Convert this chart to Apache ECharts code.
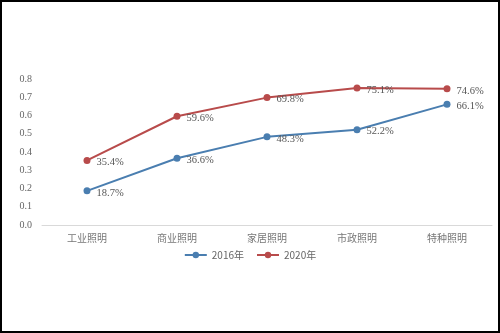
<!DOCTYPE html>
<html><head><meta charset="utf-8">
<script src="https://cdn.jsdelivr.net/npm/echarts@6/dist/echarts.min.js"></script>
<style>
html,body{margin:0;padding:0;background:#fff;}
#c{width:500px;height:333px;box-sizing:border-box;border:2px solid #000;}
</style></head>
<body><div id="c"></div>
<script>
const categories = ['工业照明','商业照明','家居照明','市政照明','特种照明'];
const s2016 = [0.187, 0.366, 0.483, 0.522, 0.661];
const s2020 = [0.354, 0.596, 0.698, 0.751, 0.746];
const seriesNames = ['2016年','2020年'];
const chart = echarts.init(document.getElementById('c'));
const lbl = {show:true, position:'right', distance:6, offset:[0,2], color:'#555', fontSize:10.5, fontFamily:'Liberation Serif',
  formatter: p => (p.value*100).toFixed(1)+'%'};
chart.setOption({
  animation:false,
  grid:{left:40, right:6, top:77, bottom:106},
  legend:{bottom:66, left:'center', itemWidth:22, itemHeight:8, itemGap:12,
    textStyle:{color:'#666', fontSize:10, fontFamily:'Noto Sans CJK SC'},
    data:seriesNames},
  xAxis:{type:'category', data:categories, boundaryGap:true,
    axisLine:{lineStyle:{color:'#d9d9d9'}}, axisTick:{show:false},
    axisLabel:{color:'#777', fontSize:10, fontFamily:'Noto Sans CJK SC', margin:8}},
  yAxis:{type:'value', min:0, max:0.8, interval:0.1,
    splitLine:{show:false}, axisLine:{show:false}, axisTick:{show:false},
    axisLabel:{color:'#666', fontSize:10, fontFamily:'Liberation Serif', formatter:v=>v.toFixed(1), margin:10}},
  series:[
    {name:seriesNames[0], type:'line', data:s2016, symbol:'circle', symbolSize:7,
      itemStyle:{color:'#4a7eb0'}, lineStyle:{width:2, color:'#4a7eb0'}, label:lbl},
    {name:seriesNames[1], type:'line', data:s2020, symbol:'circle', symbolSize:7,
      itemStyle:{color:'#b84b4b'}, lineStyle:{width:2, color:'#b84b4b'}, label:lbl}
  ]
});
</script></body></html>
